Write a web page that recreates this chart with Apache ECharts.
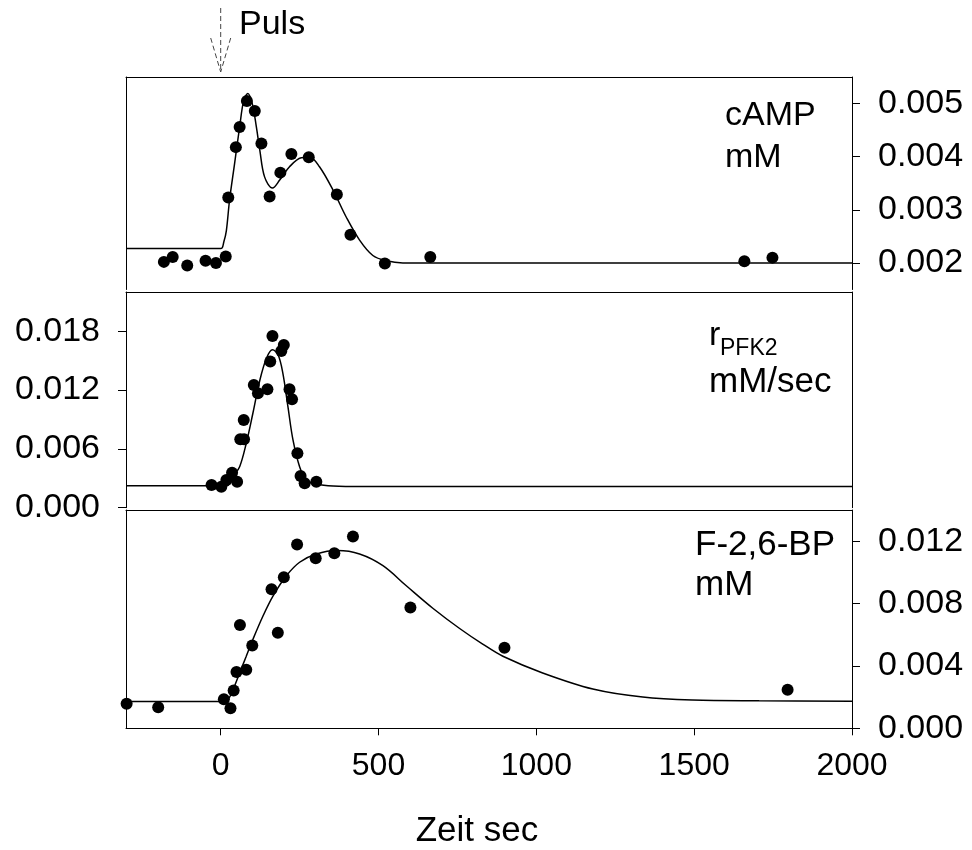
<!DOCTYPE html>
<html>
<head>
<meta charset="utf-8">
<script src="https://cdn.jsdelivr.net/npm/echarts@6/dist/echarts.min.js"></script>
<style>
  html, body { margin: 0; padding: 0; background: #fff; }
  #chart { width: 972px; height: 850px; }
</style>
</head>
<body>
<div id="chart"></div>
<script>
// Time axis (seconds after the glucose pulse)
const timeTicks = [0, 500, 1000, 1500, 2000];

// cAMP (mM): measurements and fitted curve
const campTime  = [-180, -152, -106, -48, -15, 16, 24, 48, 60, 83, 108, 129, 155, 189, 224, 279, 368, 411, 520, 664, 1659, 1748];
const campValue = [0.00202, 0.00211, 0.00195, 0.00204, 0.00200, 0.00212, 0.00323, 0.00418, 0.00456, 0.00505, 0.00486, 0.00425, 0.00325, 0.00370, 0.00405, 0.00399, 0.00329, 0.00253, 0.00199, 0.00211, 0.00203, 0.00210];
const campFitTime  = [-300, 0, 10, 18, 28, 44, 60, 73, 86, 100, 113, 124, 139, 164, 187, 218, 255, 282, 313, 356, 398, 440, 482, 525, 577, 650, 2000];
const campFitValue = [0.00227, 0.00227, 0.00240, 0.00261, 0.00318, 0.00387, 0.00456, 0.00506, 0.00519, 0.00500, 0.00456, 0.00412, 0.00362, 0.00341, 0.00356, 0.00381, 0.00398, 0.00399, 0.00381, 0.00337, 0.00286, 0.00243, 0.00214, 0.00204, 0.00200, 0.00200, 0.00200];
const campTicks = [0.002, 0.003, 0.004, 0.005];

// PFK2 rate (mM/sec): measurements and fitted curve
const pfkTime  = [-29, 2, 18, 36, 52, 62, 74, 73, 105, 118, 148, 157, 164, 192, 200, 218, 226, 243, 253, 266, 303];
const pfkValue = [0.00232, 0.00214, 0.00283, 0.00357, 0.00265, 0.00698, 0.00698, 0.00895, 0.01252, 0.01167, 0.01208, 0.01490, 0.01752, 0.01599, 0.01660, 0.01208, 0.01106, 0.00555, 0.00323, 0.00249, 0.00265];
const pfkFitTime  = [-300, 20, 30, 39, 60, 81, 102, 124, 145, 164, 182, 197, 213, 229, 250, 271, 303, 356, 450, 2000];
const pfkFitValue = [0.00225, 0.00225, 0.00250, 0.00316, 0.00418, 0.00657, 0.00963, 0.01300, 0.01524, 0.01610, 0.01558, 0.01371, 0.01030, 0.00691, 0.00418, 0.00283, 0.00242, 0.00221, 0.00215, 0.00215];
const pfkTicks = [0, 0.006, 0.012, 0.018];

// Fructose-2,6-bisphosphate (mM): measurements and fitted curve
const fbpTime  = [-298, -198, 10, 31, 41, 50, 81, 61, 100, 161, 181, 200, 242, 301, 360, 419, 601, 899, 1796];
const fbpValue = [0.00157, 0.00135, 0.00187, 0.00129, 0.00243, 0.00361, 0.00376, 0.00662, 0.00531, 0.00892, 0.00613, 0.00968, 0.01178, 0.01090, 0.01123, 0.01230, 0.00774, 0.00516, 0.00247];
const fbpFitTime  = [-300, 10, 25, 39, 60, 81, 102, 134, 166, 208, 250, 303, 370, 440, 514, 588, 672, 757, 830, 894, 1020, 1179, 1337, 1495, 1706, 2000];
const fbpFitValue = [0.00172, 0.00172, 0.00190, 0.00247, 0.00355, 0.00462, 0.00570, 0.00720, 0.00849, 0.00978, 0.01065, 0.01118, 0.01140, 0.01118, 0.01043, 0.00914, 0.00770, 0.00640, 0.00540, 0.00462, 0.00355, 0.00252, 0.00200, 0.00181, 0.00176, 0.00174];
const fbpTicks = [0, 0.004, 0.008, 0.012];

const FONT = "'Liberation Sans', Arial, sans-serif";
const pairs = (xs, ys) => xs.map((x, i) => [x, ys[i]]);
const fmt = v => v.toFixed(3);

const chart = echarts.init(document.getElementById('chart'), null, { renderer: 'canvas' });

const lineOnly = { show: true, onZero: false, lineStyle: { color: '#000', width: 1 } };

function frameX(grid, position) {
  return {
    gridIndex: grid, type: 'value', min: -300, max: 2000, position: position,
    axisLine: lineOnly, axisTick: { show: false }, axisLabel: { show: false }, splitLine: { show: false }
  };
}
function frameY(grid, position, min, max) {
  return {
    gridIndex: grid, type: 'value', min: min, max: max, position: position,
    axisLine: lineOnly, axisTick: { show: false }, axisLabel: { show: false }, splitLine: { show: false }
  };
}
function valueY(grid, position, min, max, ticks) {
  return {
    gridIndex: grid, type: 'value', min: min, max: max, position: position,
    axisLine: lineOnly,
    axisTick: { show: true, length: 8, customValues: ticks, lineStyle: { color: '#000', width: 1 } },
    axisLabel: { show: true, customValues: ticks, formatter: fmt, fontSize: 34, fontFamily: FONT, color: '#000', margin: 26 },
    splitLine: { show: false }
  };
}

function scatter(xIdx, yIdx, xs, ys) {
  return {
    type: 'scatter', xAxisIndex: xIdx, yAxisIndex: yIdx, data: pairs(xs, ys),
    symbol: 'circle', symbolSize: 12, itemStyle: { color: '#000', opacity: 1 }, z: 3
  };
}
function fit(xIdx, yIdx, xs, ys) {
  return {
    type: 'line', xAxisIndex: xIdx, yAxisIndex: yIdx, data: pairs(xs, ys),
    symbol: 'none', smooth: 0.35, lineStyle: { color: '#000', width: 1.5 }, z: 2
  };
}

const option = {
  animation: false,
  backgroundColor: '#fff',
  grid: [
    { left: 126, right: 120, top: 77, height: 212.5 },
    { left: 126, right: 120, top: 292, height: 215.7 },
    { left: 126, right: 120, top: 510, height: 218.3 }
  ],
  xAxis: [
    frameX(0, 'top'),
    frameX(1, 'top'),
    frameX(2, 'top'),
    {
      gridIndex: 2, type: 'value', min: -300, max: 2000, position: 'bottom',
      axisLine: lineOnly,
      axisTick: { show: true, length: 7, customValues: timeTicks, lineStyle: { color: '#000', width: 1 } },
      axisLabel: { show: true, customValues: timeTicks, formatter: v => String(v), fontSize: 32, fontFamily: FONT, color: '#000', margin: 22 },
      splitLine: { show: false }
    }
  ],
  yAxis: [
    frameY(0, 'left', 0.0015, 0.0055),
    valueY(0, 'right', 0.0015, 0.0055, campTicks),
    valueY(1, 'left', 0, 0.022, pfkTicks),
    frameY(1, 'right', 0, 0.022),
    frameY(2, 'left', 0, 0.014),
    valueY(2, 'right', 0, 0.014, fbpTicks)
  ],
  series: [
    fit(0, 1, campFitTime, campFitValue),
    scatter(0, 1, campTime, campValue),
    fit(1, 2, pfkFitTime, pfkFitValue),
    scatter(1, 2, pfkTime, pfkValue),
    fit(3, 5, fbpFitTime, fbpFitValue),
    scatter(3, 5, fbpTime, fbpValue)
  ]
};
chart.setOption(option);

// Panel labels, axis title and the pulse marker
const txt = (text, x, y, size, align) => ({
  type: 'text', silent: true,
  style: { text: text, x: x, y: y, font: size + 'px ' + FONT, fill: '#000', align: align || 'left', verticalAlign: 'middle' }
});

const px0 = chart.convertToPixel({ xAxisIndex: 0 }, 0);
const topY = chart.convertToPixel({ yAxisIndex: 1 }, 0.0055);
const tipY = topY - 5;
const dashed = { stroke: '#444', lineWidth: 1, lineDash: [5, 3] };

chart.setOption({
  graphic: [
    txt('cAMP', 725, 116, 34),
    txt('mM', 725, 158, 34),
    txt('r', 709, 336, 34),
    txt('PFK2', 720, 349, 23),
    txt('mM/sec', 709, 382, 35),
    txt('F-2,6-BP', 695, 545, 35),
    txt('mM', 695, 585, 35),
    txt('Zeit sec', 477, 831, 35, 'center'),
    txt('Puls', 239, 25, 34),
    { type: 'line', silent: true, shape: { x1: px0, y1: 8, x2: px0, y2: tipY }, style: dashed },
    { type: 'line', silent: true, shape: { x1: px0 - 10, y1: tipY - 34, x2: px0, y2: tipY }, style: dashed },
    { type: 'line', silent: true, shape: { x1: px0 + 10, y1: tipY - 34, x2: px0, y2: tipY }, style: dashed }
  ]
});
</script>
</body>
</html>
